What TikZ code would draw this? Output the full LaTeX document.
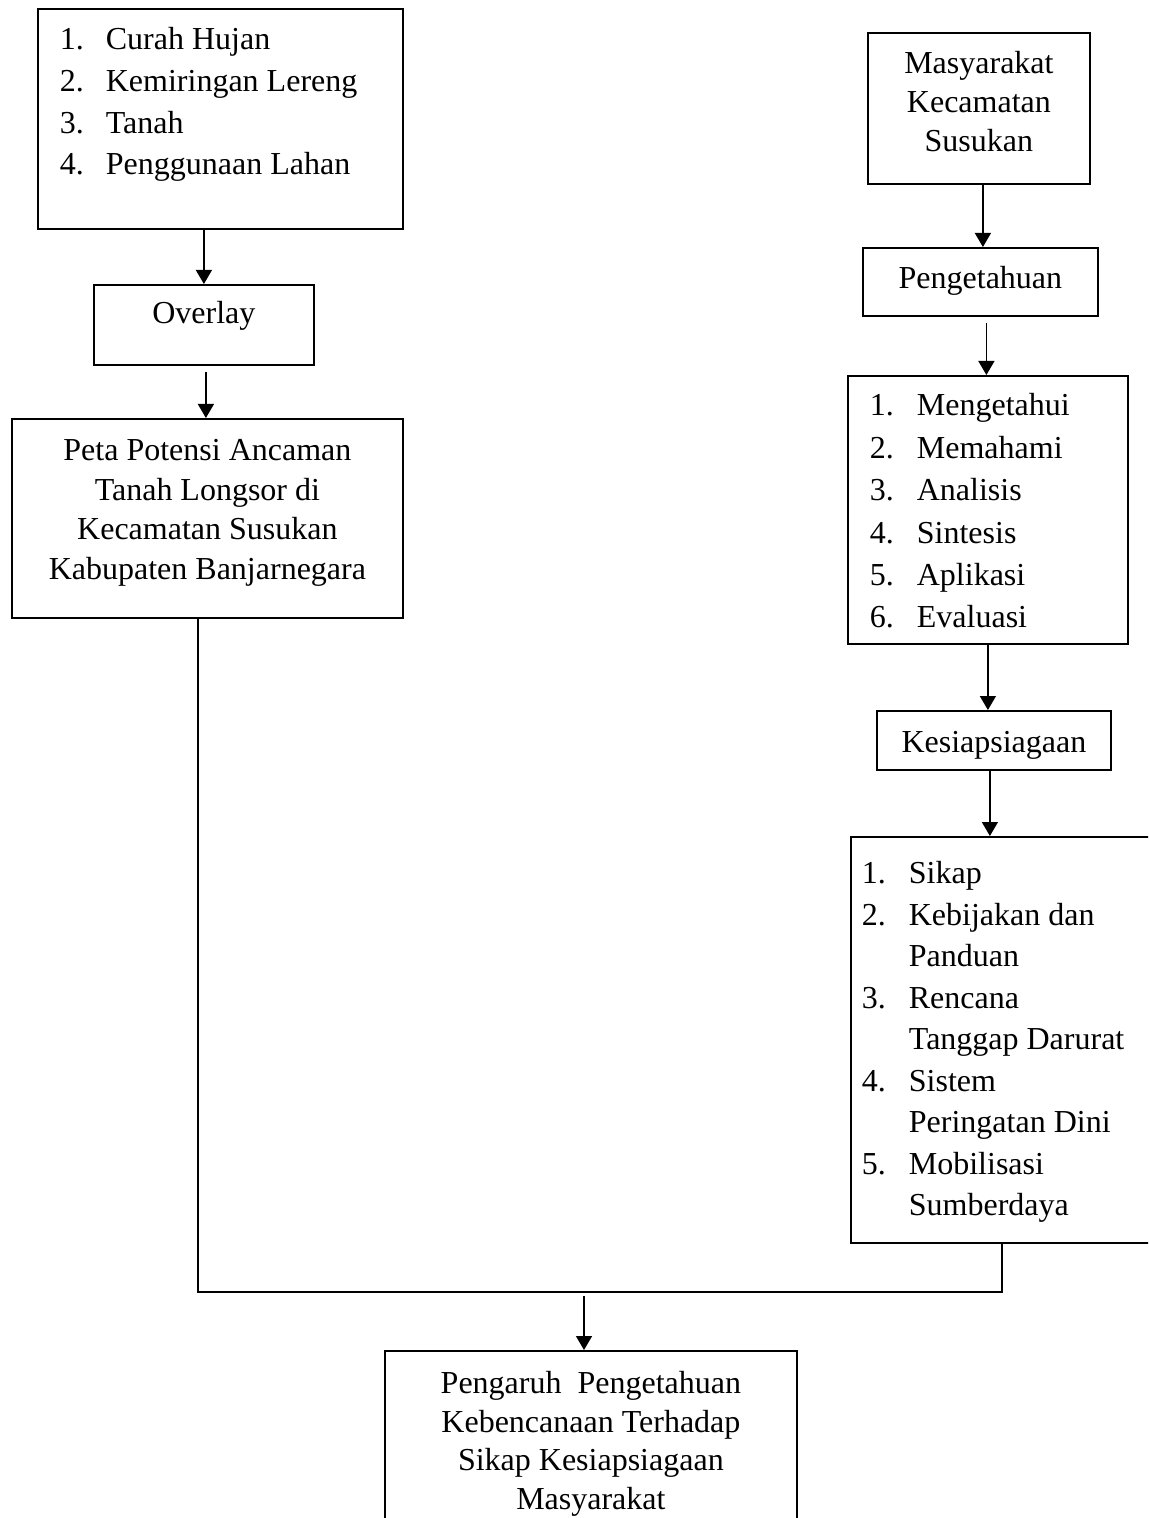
\documentclass[tikz,border=0pt]{standalone}
\usepackage{fontspec}
\setmainfont{Liberation Serif}
\usepackage{tikz}
\usetikzlibrary{arrows.meta, positioning, calc}

\begin{document}
\begin{tikzpicture}[
    x=0.5pt, y=-0.5pt,
    box/.style={draw, line width=0.9pt, anchor=north west, inner ysep=0pt, font=\fontsize{16}{20}\selectfont},
    arrow/.style={-{Triangle[length=7pt, width=8pt]}, line width=0.7pt},
    line/.style={line width=0.7pt}
]
\useasboundingbox (0,0) rectangle (1148,1518);
\clip (0,0) rectangle (1148,1518);

% Left column
\node[box, inner xsep=11pt, text height=20.5pt, text depth=89.5pt, font=\fontsize{16}{20.85}\selectfont] (faktor) at (37,8)
    {\begin{tabular}[t]{@{}p{23pt}@{}p{137.5pt}@{}}
    1. & Curah Hujan\\ 2. & Kemiringan Lereng\\ 3. & Tanah\\ 4. & Penggunaan Lahan
    \end{tabular}};
\node[box, minimum width=110pt, text height=19.5pt, text depth=20.5pt] (overlay) at (93,284) {Overlay};
\node[box, minimum width=195.5pt, text height=21pt, text depth=78.5pt, font=\fontsize{16}{19.75}\selectfont] (peta) at (11,418)
    {\begin{tabular}[t]{@{}c@{}}
    Peta Potensi Ancaman\\ Tanah Longsor di\\ Kecamatan Susukan\\ Kabupaten Banjarnegara
    \end{tabular}};

% Right column
\node[box, minimum width=111pt, text height=20.5pt, text depth=55pt, font=\fontsize{16}{19.5}\selectfont] (masyarakat) at (867,32)
    {\begin{tabular}[t]{@{}c@{}}Masyarakat\\ Kecamatan\\ Susukan\end{tabular}};
\node[box, minimum width=117.5pt, text height=20.5pt, text depth=13.5pt] (pengetahuan) at (862,247) {Pengetahuan};
\node[box, inner xsep=11pt, text height=20pt, text depth=114pt, font=\fontsize{16}{21.2}\selectfont] (indikator) at (847,375)
    {\begin{tabular}[t]{@{}p{23.5pt}@{}p{94.5pt}@{}}
    1. & Mengetahui\\ 2. & Memahami\\ 3. & Analisis\\ 4. & Sintesis\\ 5. & Aplikasi\\ 6. & Evaluasi
    \end{tabular}};
\node[box, minimum width=117pt, text height=21pt, text depth=8.5pt] (kesiap) at (876,710) {Kesiapsiagaan};
\node[box, inner xsep=5.5pt, text height=23.5pt, text depth=179.5pt, font=\fontsize{16}{20.75}\selectfont] (sikap) at (850,836)
    {\begin{tabular}[t]{@{}p{23.5pt}@{}p{120.5pt}@{}}
    1. & Sikap\\ 2. & Kebijakan dan\\ & Panduan\\ 3. & Rencana\\ & Tanggap Darurat\\
    4. & Sistem\\ & Peringatan Dini\\ 5. & Mobilisasi\\ & Sumberdaya
    \end{tabular}};

% Result
\node[box, minimum width=206pt, text height=21.5pt, text depth=90pt, font=\fontsize{16}{19.25}\selectfont] (hasil) at (384,1350)
    {\begin{tabular}[t]{@{}c@{}}
    Pengaruh\ \ Pengetahuan\\ Kebencanaan Terhadap\\ Sikap Kesiapsiagaan\\ Masyarakat
    \end{tabular}};

% Arrows
\draw[arrow] (faktor.south -| overlay.north) -- (overlay.north);
\draw[arrow] ([xshift=1pt, yshift=-3pt]overlay.south) -- ([xshift=1pt]overlay.south |- peta.north);
\draw[arrow] ([xshift=2pt]masyarakat.south) -- ([xshift=2pt]masyarakat.south |- pengetahuan.north);
\draw[arrow] ([xshift=3pt, yshift=-3pt]pengetahuan.south) -- ([xshift=3pt]pengetahuan.south |- indikator.north);
\draw[arrow] (indikator.south) -- (indikator.south |- kesiap.north);
\draw[arrow] ([xshift=-2pt]kesiap.south) -- ([xshift=-2pt]kesiap.south |- sikap.north);

% Joining lines
\coordinate (kiri) at (198,1292);
\coordinate (kanan) at (1002,1292);
\coordinate (tengah) at (584,1296);
\draw[line] (peta.south -| kiri) -- (kiri) -- (kanan) -- (sikap.south -| kanan);
\draw[arrow] (tengah) -- (tengah |- hasil.north);

\end{tikzpicture}
\end{document}
